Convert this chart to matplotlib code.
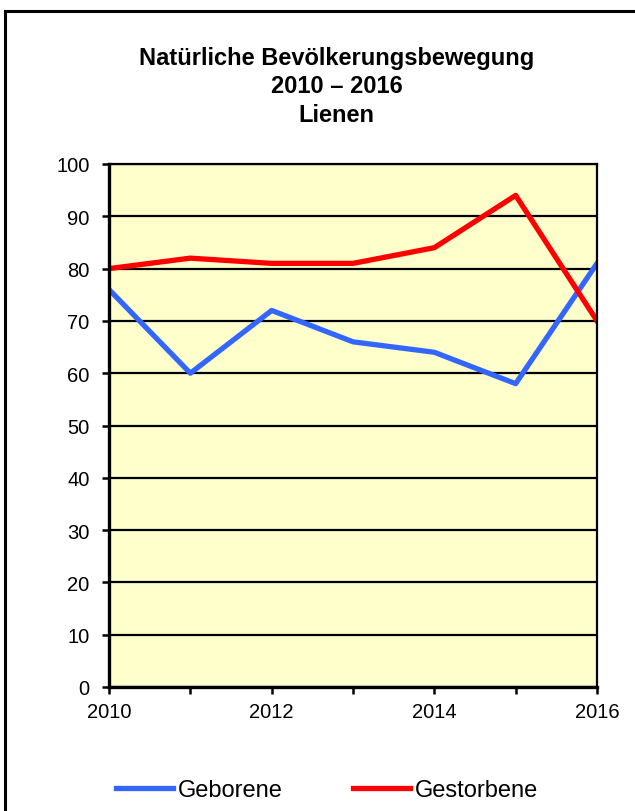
import matplotlib
matplotlib.use('Agg')
import matplotlib.pyplot as plt
from matplotlib.patches import Rectangle

plt.rcParams['font.family'] = ['Liberation Sans', 'DejaVu Sans']

# Daten
jahre = [2010, 2011, 2012, 2013, 2014, 2015, 2016]
geborene = [76, 60, 72, 66, 64, 58, 81]
gestorbene = [80, 82, 81, 81, 84, 94, 70]
titel = ['Natürliche Bevölkerungsbewegung', '2010 – 2016', 'Lienen']

W, H = 635, 812
fig = plt.figure(figsize=(W / 100, H / 100), dpi=100)
# Rahmen um das Diagramm (rechts und unten abgeschnitten)
fig.patches.append(Rectangle((4.5 / W, -0.05), 1.2, 1 - 11.5 / H + 0.05,
                             transform=fig.transFigure, fill=False,
                             edgecolor='black', linewidth=2.2))

ax = fig.add_axes([109 / W, 1 - 688 / H, (597 - 109) / W, (688 - 165) / H])
ax.set_facecolor('#FFFFCC')

ax.plot(jahre, geborene, color='#3366FF', linewidth=3.8, label='Geborene')
ax.plot(jahre, gestorbene, color='#FF0000', linewidth=3.8, label='Gestorbene')

ax.set_xlim(2010, 2016)
ax.set_ylim(0, 100)
ax.set_yticks(range(0, 101, 10))
ax.set_xticks(jahre)
ax.set_xticklabels([str(j) if j % 2 == 0 else '' for j in jahre])
ax.yaxis.grid(True, color='black', linewidth=1.6)
ax.set_axisbelow(True)
ax.tick_params(axis='both', direction='out', length=5, width=1.8, labelsize=14.5, colors='black')
ax.tick_params(axis='x', pad=5.5)
ax.tick_params(axis='y', pad=9)
for s in ['left', 'bottom']:
    ax.spines[s].set_linewidth(2.4)
ax.spines['right'].set_linewidth(1.6)
ax.spines['top'].set_linewidth(1.6)

for txt, y in zip(titel, [65, 93, 122]):
    fig.text(336.5 / W, 1 - y / H, txt, ha='center', va='baseline',
             fontsize=17, fontweight='bold')

fig.legend(loc='center', bbox_to_anchor=(327 / W, 1 - 791 / H), ncol=2, frameon=False,
           fontsize=17, handlelength=2.4, handletextpad=0.2, columnspacing=3.0,
           borderpad=0, borderaxespad=0)

fig.savefig('out.png', dpi=100)
